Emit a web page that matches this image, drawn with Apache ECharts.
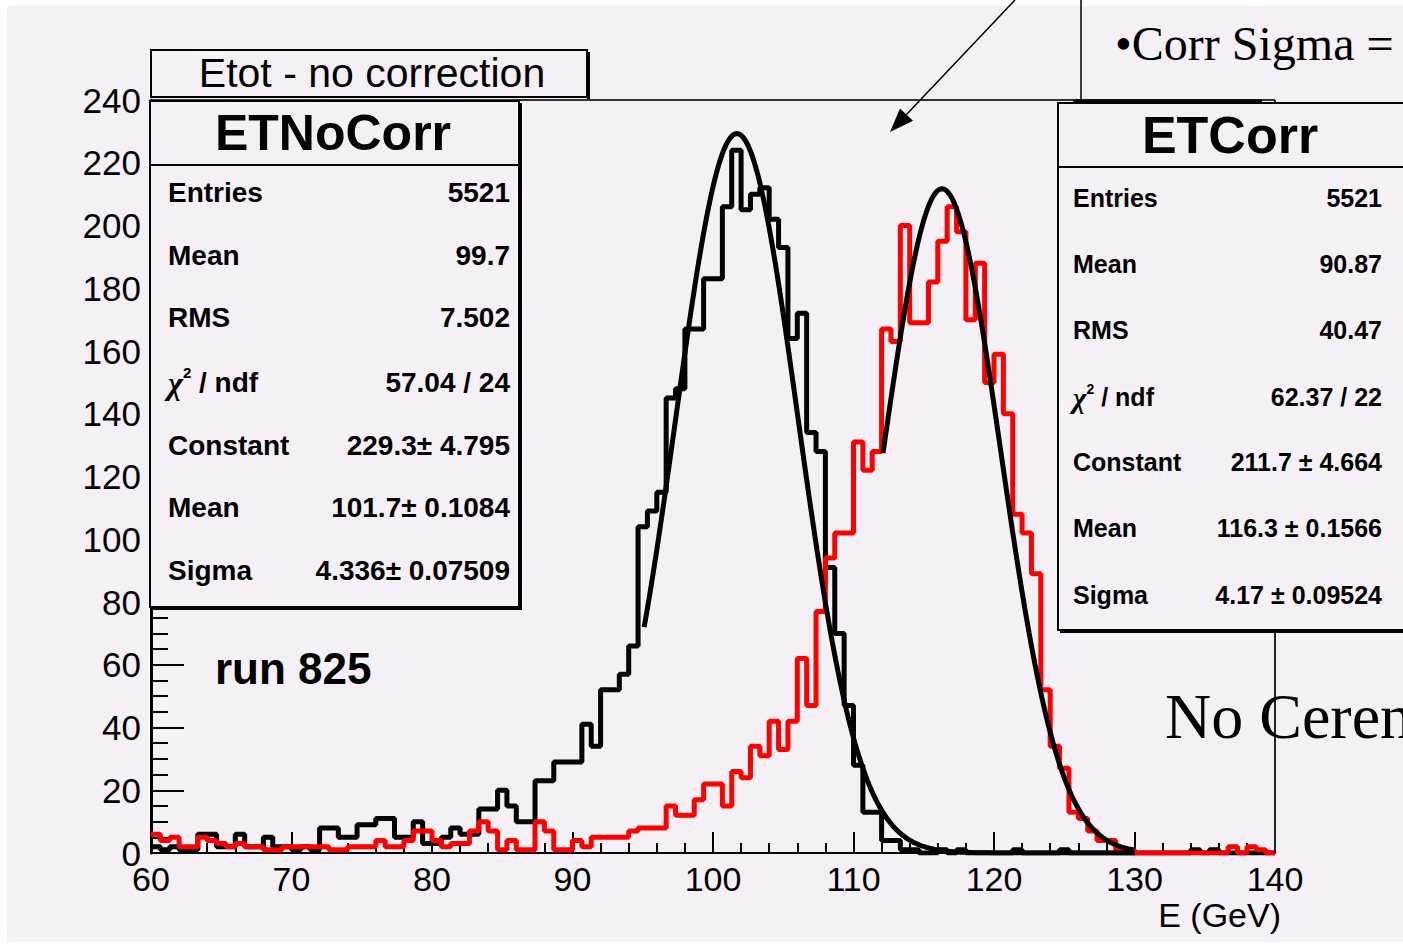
<!DOCTYPE html>
<html>
<head>
<meta charset="utf-8">
<script src="https://cdn.jsdelivr.net/npm/echarts@6/dist/echarts.min.js"></script>
<style>
  html, body { margin: 0; padding: 0; background: #ffffff; }
  #chart { width: 1403px; height: 946px; }
</style>
</head>
<body>
<div id="chart"></div>
<script>
// Energy axis and binning (GeV)
const xMin = 60;
const xMax = 140;
const binWidth = 2 / 3;
const yMax = 240;

// ETNoCorr: total energy without correction, counts per bin from 60 to 140 GeV
const etNoCorrCounts = [
  2, 1, 2, 1, 1, 6, 6, 2, 2, 6,
  2, 2, 5, 2, 2, 1, 2, 1, 8, 8,
  5, 5, 9, 9, 11, 11, 5, 5, 10, 3,
  3, 5, 8, 6, 6, 14, 14, 20, 15, 10,
  10, 23, 23, 29, 29, 29, 41, 34, 52, 52,
  57, 66, 104, 109, 115, 145, 148, 167, 167, 183,
  183, 206, 224, 205, 210, 212, 202, 193, 164, 172,
  134, 128, 91, 70, 47, 28, 13, 13, 4, 4,
  1, 1, 0, 0, 1, 0, 1, 0, 0, 0,
  0, 0, 1, 0, 0, 0, 0, 1, 0, 0,
  0, 0, 0, 0, 0, 0, 0, 0, 0, 0,
  0, 1, 0, 1, 0, 0, 0, 0, 0, 0
];

// ETCorr: total energy after correction, same binning
const etCorrCounts = [
  6, 4, 5, 2, 2, 5, 4, 3, 2, 3,
  2, 2, 1, 1, 2, 2, 2, 2, 2, 1,
  1, 2, 2, 2, 4, 2, 2, 4, 7, 7,
  4, 2, 3, 3, 7, 10, 7, 1, 4, 1,
  1, 10, 7, 1, 1, 4, 2, 5, 5, 5,
  5, 7, 8, 8, 8, 15, 12, 12, 17, 22,
  22, 15, 26, 24, 34, 31, 42, 33, 42, 62,
  47, 77, 94, 102, 102, 131, 122, 128, 167, 163,
  200, 169, 169, 182, 195, 206, 198, 170, 188, 150,
  159, 140, 108, 102, 89, 52, 34, 27, 13, 11,
  7, 4, 4, 1, 1, 0, 0, 0, 0, 0,
  0, 0, 0, 0, 0, 2, 0, 2, 1, 0
];

// Gaussian fit results [constant, mean, sigma] and fit ranges (GeV)
const noCorrFitParams = [229.3, 101.7, 4.336];
const noCorrFitRange = [95.1, 130];
const corrFitParams = [211.7, 116.3, 4.17];
const corrFitRange = [112.1, 130];

// Statistics box texts
const statLabels = ['Entries', 'Mean', 'RMS', '{chi|\u03C7}{sup|2}{lab| / ndf}', 'Constant', 'Mean', 'Sigma'];
const noCorrStatValues = ['5521', '99.7', '7.502', '57.04 / 24', '229.3\u00B1 4.795', '101.7\u00B1 0.1084', '4.336\u00B1 0.07509'];
const corrStatValues = ['5521', '90.87', '40.47', '62.37 / 22', '211.7 \u00B1 4.664', '116.3 \u00B1 0.1566', '4.17 \u00B1 0.09524'];

const SANS = "'Liberation Sans', Arial, Helvetica, sans-serif";
const SERIF = "'Liberation Serif', 'Times New Roman', serif";
const BG = '#f5f0f5';

// Step outline points: left edge of every bin, closed at the right edge of the range
function histPoints(counts) {
  const pts = [];
  for (let j = 0; j < counts.length; j++) pts.push([xMin + j * binWidth, counts[j]]);
  pts.push([xMax, counts[counts.length - 1]]);
  return pts;
}

// Fitted gaussian sampled over its fit range
function fitPoints(p, range) {
  const n = Math.round((range[1] - range[0]) / 0.1);
  const pts = [];
  for (let i = 0; i <= n; i++) {
    const x = range[0] + (range[1] - range[0]) * i / n;
    const z = (x - p[1]) / p[2];
    pts.push([x, p[0] * Math.exp(-0.5 * z * z)]);
  }
  return pts;
}

function txt(x, y, text, opts) {
  return {
    type: 'text', z: 110, x: x, y: y,
    style: Object.assign({
      text: text, fill: '#000', fontFamily: SANS, fontSize: 28,
      align: 'left', verticalAlign: 'middle'
    }, opts || {})
  };
}
function line(x1, y1, x2, y2, w, color, z) {
  return { type: 'line', z: z || 105, shape: { x1, y1, x2, y2 }, style: { stroke: color || '#000', lineWidth: w } };
}
function box(x, y, w, h, lw) {
  return { type: 'rect', z: 100, shape: { x, y, width: w, height: h }, style: { fill: BG, stroke: '#000', lineWidth: lw } };
}

function statBox(left, top, right, bottom, sepY, title, titleX, titleSize, rows, values, labelX, valueX, fontSize) {
  const els = [];
  els.push(box(left, top, right - left, bottom - top, 2));
  els.push(line(right + 1.5, top + 2, right + 1.5, bottom + 3, 3));
  els.push(line(left + 2, bottom + 1.5, right + 3, bottom + 1.5, 3));
  els.push(line(left, sepY, right, sepY, 2));
  els.push(txt(titleX, (top + sepY) / 2, title, { fontSize: titleSize, fontWeight: 'bold', align: 'center' }));
  const rich = {
    chi: { fontFamily: SERIF, fontSize: fontSize + 4, fontStyle: 'italic', fontWeight: 'bold', lineHeight: fontSize + 6, verticalAlign: 'bottom' },
    sup: { fontFamily: SANS, fontSize: Math.round(fontSize * 0.55), fontWeight: 'bold', lineHeight: fontSize + 6, verticalAlign: 'top' },
    lab: { fontFamily: SANS, fontSize: fontSize, fontWeight: 'bold', lineHeight: fontSize + 6 }
  };
  statLabels.forEach((lab, i) => {
    els.push(txt(labelX, rows[i], lab, { fontSize: fontSize, fontWeight: 'bold', rich: rich }));
    els.push(txt(valueX, rows[i], values[i], { fontSize: fontSize, fontWeight: 'bold', align: 'right' }));
  });
  return els;
}

// Arrow pointing into the pad
const arrowFrom = [1015, 0], arrowTip = [890, 132];
const adx = arrowTip[0] - arrowFrom[0], ady = arrowTip[1] - arrowFrom[1];
const alen = Math.hypot(adx, ady), ux = adx / alen, uy = ady / alen;
const headL = 24, headW = 9;
const bx = arrowTip[0] - ux * headL, by = arrowTip[1] - uy * headL;
const arrowHead = [arrowTip, [bx - uy * headW, by + ux * headW], [bx + uy * headW, by - ux * headW]];

const graphics = [
  // slide margins
  { type: 'rect', z: 90, shape: { x: 0, y: 0, width: 1403, height: 6 }, style: { fill: '#fff' } },
  { type: 'rect', z: 90, shape: { x: 0, y: 0, width: 7, height: 946 }, style: { fill: '#fff' } },
  { type: 'rect', z: 90, shape: { x: 0, y: 942, width: 1403, height: 4 }, style: { fill: '#fff' } },
  // pad frame, drawn beneath the boxes
  line(150, 100, 1275, 100, 2, '#333', 95),
  line(1275, 100, 1275, 853, 2, '#222', 95),
  line(1073, 101, 1262, 101, 3, '#000', 95),
  // title box
  box(151, 50, 436, 47, 2),
  line(588.5, 52, 588.5, 99, 3),
  txt(372, 73, 'Etot - no correction', { fontSize: 41, align: 'center' }),
  ...statBox(150, 101, 519, 607, 165, 'ETNoCorr', 333, 50, [192, 255, 317, 382, 445, 507, 570],
             noCorrStatValues, 168, 510, 28),
  ...statBox(1058, 103, 1420, 630, 167, 'ETCorr', 1230, 52, [198, 264, 330, 397, 462, 528, 595],
             corrStatValues, 1073, 1382, 25),
  txt(215, 668, 'run 825', { fontSize: 44, fontWeight: 'bold' }),
  txt(1281, 915, 'E (GeV)', { fontSize: 34, align: 'right' }),
  txt(1165, 716, 'No Ceren', { fontSize: 64, fontFamily: SERIF }),
  txt(1115, 43, '\u2022Corr Sigma =', { fontSize: 48, fontFamily: SERIF }),
  line(1081, 0, 1081, 100, 1.5),
  line(arrowFrom[0], arrowFrom[1], bx, by, 1.5),
  { type: 'polygon', z: 110, shape: { points: arrowHead }, style: { fill: '#000' } }
];

const chart = echarts.init(document.getElementById('chart'), null, { renderer: 'svg', width: 1403, height: 946 });
chart.setOption({
  animation: false,
  backgroundColor: BG,
  grid: { left: 151, top: 100, width: 1124, height: 753, containLabel: false },
  xAxis: {
    type: 'value', min: xMin, max: xMax, interval: 10,
    axisLine: { show: true, onZero: false, lineStyle: { color: '#000', width: 2 } },
    axisTick: { show: true, inside: true, length: 21, lineStyle: { color: '#000', width: 2 } },
    minorTick: { show: true, splitNumber: 5, length: 10, lineStyle: { color: '#000', width: 2 } },
    axisLabel: { fontFamily: SANS, fontSize: 34, color: '#000', margin: 9 },
    splitLine: { show: false }, minorSplitLine: { show: false }
  },
  yAxis: {
    type: 'value', min: 0, max: yMax, interval: 20,
    axisLine: { show: true, onZero: false, lineStyle: { color: '#000', width: 3 } },
    axisTick: { show: true, inside: true, length: 33, lineStyle: { color: '#000', width: 2 } },
    minorTick: { show: true, splitNumber: 4, length: 17, lineStyle: { color: '#000', width: 2 } },
    axisLabel: { fontFamily: SANS, fontSize: 35, color: '#000', margin: 10 },
    splitLine: { show: false }, minorSplitLine: { show: false }
  },
  series: [
    { name: 'ETNoCorr', type: 'line', step: 'end', data: histPoints(etNoCorrCounts), showSymbol: false,
      lineStyle: { color: '#000', width: 5 }, z: 3 },
    { name: 'ETCorr', type: 'line', step: 'end', data: histPoints(etCorrCounts), showSymbol: false,
      lineStyle: { color: '#ff0000', width: 5 }, z: 4 },
    { name: 'ETNoCorr fit', type: 'line', data: fitPoints(noCorrFitParams, noCorrFitRange), showSymbol: false,
      lineStyle: { color: '#000', width: 5 }, z: 5 },
    { name: 'ETCorr fit', type: 'line', data: fitPoints(corrFitParams, corrFitRange), showSymbol: false,
      lineStyle: { color: '#000', width: 5 }, z: 6 }
  ],
  graphic: { elements: graphics }
});
</script>
</body>
</html>
